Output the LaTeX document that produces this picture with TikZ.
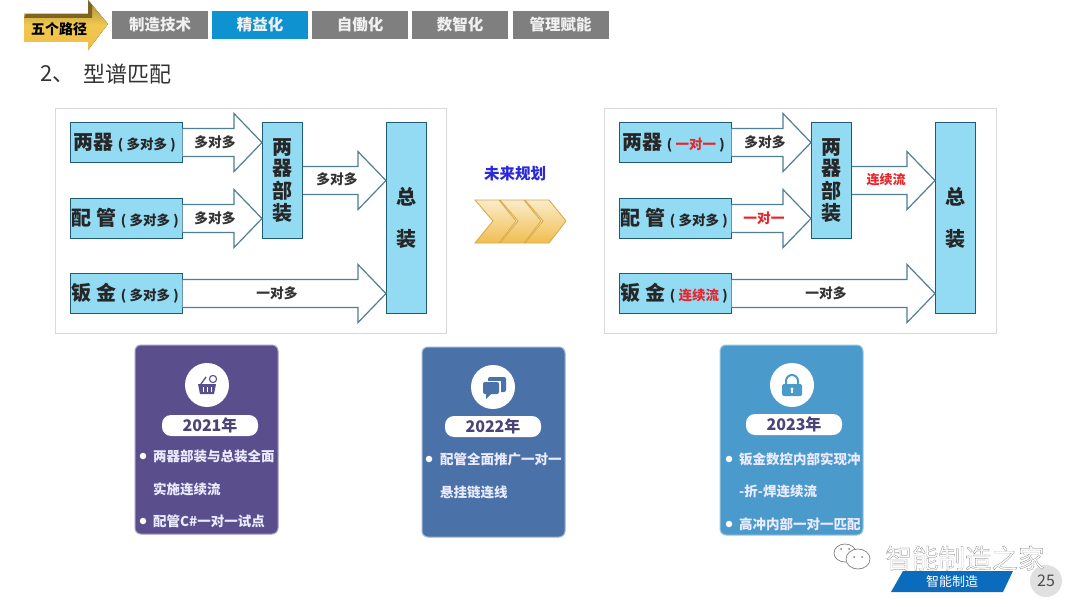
\documentclass[tikz,border=0pt]{standalone}
\usepackage{fontspec}
\setmainfont{Noto Sans CJK SC}
\newfontfamily\wmfont[FakeBold=0.6]{Noto Sans CJK SC}
\usetikzlibrary{calc,shapes.geometric}
\newcommand\fsz[1]{\fontsize{#1}{#1}\selectfont}
\definecolor{boxfill}{HTML}{92DBF3}
\definecolor{boxedge}{HTML}{1F5C73}
\definecolor{arrowedge}{HTML}{4F7F92}
\definecolor{tabgray}{HTML}{7F7F7F}
\definecolor{tabblue}{HTML}{0E92D0}
\definecolor{cardA}{HTML}{5A4E8C}
\definecolor{cardB}{HTML}{4A72A8}
\definecolor{cardC}{HTML}{4A9ACB}
\definecolor{pilltext}{HTML}{4B4475}
\definecolor{redtext}{HTML}{E8252B}
\definecolor{gold}{HTML}{F0C850}
\definecolor{golddark}{HTML}{7E6420}
\definecolor{chevgold}{HTML}{F0BE50}
\definecolor{footblue}{HTML}{0B6CBE}
\definecolor{planblue}{HTML}{2A2AD8}
\tikzset{
 tabbox/.style={fill=tabgray,text=white!88!gray,minimum width=96pt,minimum height=28pt,inner sep=0pt,font=\fsz{15.5}\bfseries},
 frame/.style={draw=black!15,line width=.8pt,fill=white},
 flowbox/.style={draw=boxedge,fill=boxfill,line width=1.1pt,inner sep=0pt,text=black!85},
 hbox/.style={flowbox,minimum width=111.5pt,minimum height=40pt,text width=109pt,align=left},
 vtext/.style={font=\fsz{20}\bfseries,align=center},
 barrow/.style={draw=arrowedge,fill=white,line width=1.2pt,line join=miter},
 arrowtext/.style={font=\fsz{13.7}\bfseries,text=black!80,inner sep=0pt},
 card/.style={rounded corners=6pt,draw=#1!55,line width=1pt,fill=#1},
 iconcircle/.style={circle,fill=white,minimum size=44pt,inner sep=0pt},
 pill/.style={rounded corners=9pt,fill=white,minimum width=96pt,minimum height=21pt,inner sep=0pt,text=pilltext,font=\fsz{16}\bfseries},
 cardtext/.style={anchor=west,text=white!92!blue,font=\fsz{13.5}\bfseries,inner sep=0pt},
 dotmark/.style={circle,fill=white,minimum size=6.5pt,inner sep=0pt},
 chev/.style={draw=chevgold!90!black,line width=.9pt,top color=chevgold!30!white,bottom color=chevgold},
 wechat/.style={draw=black!50,line width=.7pt,fill=white},
}
\newcommand\blockarrow[2]{%
 \draw[barrow] let \p1=(#1.east), \p2=(#2.west |- #1.east) in
  (\x1,\y1+14pt) -- (\x2-28pt,\y1+14pt) -- (\x2-28pt,\y1+29pt) -- (\p2) --
  (\x2-28pt,\y1-29pt) -- (\x2-28pt,\y1-14pt) -- (\x1,\y1-14pt);}
\newcommand\boxlabel[3]{\hspace*{#1pt}{\fsz{20}\bfseries #2}\hspace{4pt}{\fsz{13.5}\bfseries #3}}
\begin{document}
\begin{tikzpicture}[x=1pt,y=-1pt]
\useasboundingbox (0,0) rectangle (1080,607);
\fill[white] (0,0) rectangle (1080,607);
% header arrow
\fill[top color=gold!70!black,bottom color=gold!85!orange,middle color=gold] (24,14) -- (88,14) -- (88,0) -- (108,24) -- (88,50) -- (88,42) -- (24,42) -- cycle;
\fill[golddark] (26,14) -- (88,14) -- (88,1) -- (92,5) -- (92,18) -- (24,18) -- cycle;
\node[font=\fsz{14}\bfseries,text=black,inner sep=0pt] (route) at (59,29) {五个路径};
% tabs
\node[tabbox] (t1) at (160,25) {制造技术};
\node[tabbox,fill=tabblue] (t2) at (260,25) {精益化};
\node[tabbox] (t3) at (360,25) {自働化};
\node[tabbox] (t4) at (460,25) {数智化};
\node[tabbox] (t5) at (560.5,25) {管理赋能};
% title
\node[anchor=west,inner sep=0pt,font=\fsz{22},text=black!80] (titlenum) at (40,74) {2、};
\node[anchor=west,inner sep=0pt,font=\fsz{22},text=black!80] (title) at (83,74) {型谱匹配};
% left panel
\draw[frame] (55,108) rectangle (446,333);
\node[hbox,anchor=north west] (la) at (70,122) {\boxlabel{2}{两器}{( 多对多 )}};
\node[hbox,anchor=north west] (lb) at (70,198) {\boxlabel{0}{配\hspace{5pt}管}{( 多对多 )}};
\node[hbox,anchor=north west] (lc) at (70,273) {\boxlabel{0}{钣\hspace{5pt}金}{( 多对多 )}};
\node[flowbox,vtext,anchor=north west,minimum width=40pt,minimum height=116pt] (lm) at (262,122) {\shortstack{两\\器\\部\\装}};
\node[flowbox,vtext,anchor=north west,minimum width=40pt,minimum height=191pt] (lt) at (386,122) {总\\[22pt]装};
\blockarrow{la}{lm}
\blockarrow{lb}{lm}
\blockarrow{lm}{lt}
\blockarrow{lc}{lt}
\node[arrowtext] (lla) at (215,142) {多对多};
\node[arrowtext] (llb) at (215,218) {多对多};
\node[arrowtext] (llm) at (337,179) {多对多};
\node[arrowtext] (llc) at (277,293) {一对多};
% middle
\node[font=\fsz{15.5}\bfseries,text=planblue,inner sep=0pt] (plan) at (515,174) {未来规划};
\foreach \dx in {50,25,0}{
 \draw[chev] (475+\dx,200) -- (499+\dx,200) -- (516+\dx,221) -- (499+\dx,243) -- (475+\dx,243) -- (493+\dx,221) -- cycle;
}
% right panel
\draw[frame] (604.5,108) rectangle (996,333);
\node[hbox,anchor=north west] (ra) at (619,122) {\boxlabel{2}{两器}{( \textcolor{redtext}{一对一} )}};
\node[hbox,anchor=north west] (rb) at (619,198) {\boxlabel{0}{配\hspace{5pt}管}{( 多对多 )}};
\node[hbox,anchor=north west] (rc) at (619,273) {\boxlabel{0}{钣\hspace{5pt}金}{( \textcolor{redtext}{连续流} )}};
\node[flowbox,vtext,anchor=north west,minimum width=40pt,minimum height=116pt] (rm) at (811,122) {\shortstack{两\\器\\部\\装}};
\node[flowbox,vtext,anchor=north west,minimum width=40pt,minimum height=191pt] (rt) at (935,122) {总\\[22pt]装};
\blockarrow{ra}{rm}
\blockarrow{rb}{rm}
\blockarrow{rm}{rt}
\blockarrow{rc}{rt}
\node[arrowtext] (rla) at (765,142) {多对多};
\node[arrowtext,text=redtext] (rlb) at (764,218) {一对一};
\node[arrowtext,text=redtext,font=\fsz{13}\bfseries] (rlm) at (886,180) {连续流};
\node[arrowtext] (rlc) at (826,293) {一对多};
% card 1
\draw[card=cardA] (135,345) rectangle (278,534);
\node[iconcircle] (ia) at (207,385) {};
\node[pill] (pa) at (210,425.5) {2021年};
\node[dotmark] (da) at (143,456) {};
\node[cardtext] at (153,456) {两器部装与总装全面};
\node[cardtext] at (153,489) {实施连续流};
\node[dotmark] (db) at (143,521) {};
\node[cardtext] at (153,521) {配管C\#一对一试点};
\begin{scope}[shift={(ia.center)}]
 \fill[cardA] (-9,-1) -- (9,-1) -- (7,9) -- (-7,9) -- cycle;
 \draw[cardA,line width=1.3pt] (-6,-1) -- (-1,-8);
 \draw[cardA,line width=1.1pt,fill=white] (6,-6) circle (3.6pt);
 \draw[white,line width=1pt] (-4,2) -- (-4,7) (0,2) -- (0,7) (4,2) -- (4,7);
\end{scope}
% card 2
\draw[card=cardB] (422,347) rectangle (565,537);
\node[iconcircle] (ib) at (493,387) {};
\node[pill] (pb) at (493,426.5) {2022年};
\node[dotmark] (dc) at (429,459) {};
\node[cardtext] at (440,459) {配管全面推广一对一};
\node[cardtext] at (440,492) {悬挂链连线};
\begin{scope}[shift={(ib.center)}]
 \fill[cardB,rounded corners=2pt] (-5,-10) rectangle (13,5);
 \fill[white,rounded corners=2pt] (-11,-6) rectangle (7,9);
 \fill[cardB,rounded corners=2pt] (-10,-5) rectangle (6,7);
 \fill[cardB] (-7,6) -- (-7,12) -- (-1,6) -- cycle;
 \draw[white,line width=.9pt] (-11,-6) -- (7,-6) -- (7,7);
\end{scope}
% card 3
\draw[card=cardC] (720,345) rectangle (863,535);
\node[iconcircle] (ic) at (792,385) {};
\node[pill] (pc) at (794,424.5) {2023年};
\node[dotmark] (dd) at (729,459) {};
\node[cardtext] at (739,459) {钣金数控内部实现冲};
\node[cardtext] at (739,491) {-折-焊连续流};
\node[dotmark] (de) at (729,524) {};
\node[cardtext] at (739,524) {高冲内部一对一匹配};
\begin{scope}[shift={(ic.center)}]
 \draw[cardC,line width=2pt] (-6,0) -- (-6,-4) arc[start angle=180,end angle=0,radius=6pt] -- (6,0);
 \fill[cardC,rounded corners=1.5pt] (-10,-1) rectangle (10,11);
 \fill[white] (0,4) circle (1.6pt);
 \fill[white] (-.6,4) rectangle (.6,8);
\end{scope}
% footer
\fill[footblue] (903,571) -- (1013,571) -- (1003,592) -- (891,592) -- cycle;
\node[font=\fsz{13},text=white,inner sep=0pt] (brand) at (952,581.5) {智能制造};
\node[circle,fill=black!12,minimum size=32pt,inner sep=0pt,font=\fsz{16},text=black!70] (page) at (1046,581) {25};
% watermark
\draw[wechat] (845,553) ellipse (11pt and 9pt);
\draw[wechat] (858,559) ellipse (12pt and 10pt);
\fill[black!50] (854,557) circle (1pt) (862,557) circle (1pt) (841,549) circle (1pt) (849,549) circle (1pt);
\node[inner sep=0pt,text=white] (mark) at (965,558) {\wmfont\fsz{26.5}\special{pdf:code 0.4 G}智能制造之家};
\end{tikzpicture}
\end{document}
